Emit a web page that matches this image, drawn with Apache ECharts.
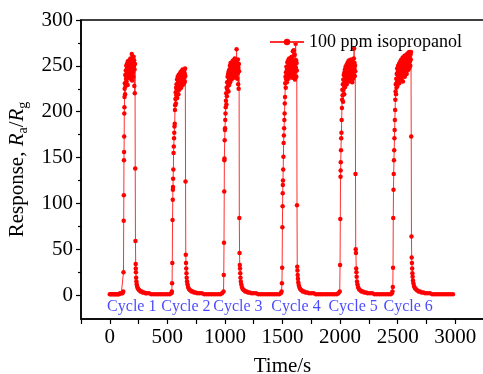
<!DOCTYPE html>
<html>
<head>
<meta charset="utf-8">
<script src="https://cdn.jsdelivr.net/npm/echarts@6/dist/echarts.min.js"></script>
<style>
html,body{margin:0;padding:0;background:#fff;}
#chart{width:483px;height:374px;}
</style>
</head>
<body>
<div id="chart"></div>
<script>
// ---- data (time in s, response Ra/Rg) ----
const seriesName = '100 ppm isopropanol';
const xTickLabels = [0, 500, 1000, 1500, 2000, 2500, 3000];
const yTickLabels = [0, 50, 100, 150, 200, 250, 300];
const cycleNames = ['Cycle 1', 'Cycle 2', 'Cycle 3', 'Cycle 4', 'Cycle 5', 'Cycle 6'];
const cycleLabelTimes = [191, 661, 1113, 1617, 2113, 2591];
const cycleLabelLevel = -13;

const base0 = [[0,1],[10,1],[20,1],[30,1],[40,1],[50,1],[60,1],[70,1],[80,1],[90,2],[100,2],[110,2]];
const cycle1 = [[117,4],[119,25],[121,81],[122,109],[123,147],[124,156],[125,173],[126,198],[127,205],[128,216],[129,225],[131,231],[133,219],[135,240],[137,228],[139,245],[141,236],[143,250],[145,233],[147,242],[149,252],[151,238],[153,247],[155,229],[157,255],[159,243],[161,249],[163,237],[165,253],[167,241],[169,246],[171,256],[173,239],[175,250],[177,244],[179,258],[181,236],[183,248],[185,253],[187,240],[189,257],[191,263],[193,234],[195,252],[197,247],[199,259],[201,243],[203,255],[205,238],[207,260],[209,249],[211,256],[213,228],[215,246],[217,220],[219,252],[221,138],[223,59],[225,34],[226,29],[227,25],[229,19],[231,15],[234,12],[237,10],[241,8],[246,7],[252,6],[259,5],[267,4],[276,4],[286,3],[297,3],[310,2]];
const base1 = [[320,2],[340,2],[360,1],[380,1],[400,1],[420,1],[440,1],[460,1],[480,1],[500,1],[520,1],[535,2]];
const cycle2 = [[539,4],[541,13],[543,35],[545,82],[547,104],[548,115],[549,118],[550,127],[552,137],[554,155],[556,162],[558,171],[560,177],[562,184],[564,187],[566,202],[568,207],[570,214],[572,221],[574,209],[576,226],[578,218],[580,230],[582,223],[584,235],[586,215],[588,228],[590,238],[592,225],[594,232],[596,219],[598,240],[600,229],[602,236],[604,224],[606,241],[608,231],[610,237],[612,227],[614,243],[616,233],[618,239],[620,226],[622,244],[624,235],[626,230],[628,241],[630,236],[632,246],[634,229],[636,240],[638,234],[640,244],[642,238],[644,231],[646,245],[648,237],[650,242],[652,233],[654,247],[656,239],[658,124],[660,44],[662,35],[664,29],[666,24],[668,19],[671,15],[675,12],[680,9],[686,7],[693,6],[701,5],[710,4],[720,4],[732,3],[745,3],[760,2]];
const base2 = [[780,2],[800,2],[820,1],[840,1],[860,1],[880,1],[900,1],[920,1],[940,1],[960,1],[975,2]];
const cycle3 = [[988,4],[990,22],[992,57],[994,113],[995,147],[996,149],[998,169],[1000,180],[1001,182],[1003,191],[1005,198],[1007,205],[1009,212],[1011,220],[1013,208],[1015,226],[1017,217],[1019,232],[1021,224],[1023,238],[1025,228],[1027,241],[1029,233],[1031,222],[1033,244],[1035,236],[1037,229],[1039,246],[1041,238],[1043,250],[1045,232],[1047,243],[1049,253],[1051,237],[1053,247],[1055,240],[1057,252],[1059,235],[1061,249],[1063,244],[1065,255],[1067,239],[1069,250],[1071,243],[1073,256],[1075,241],[1077,249],[1079,237],[1081,253],[1083,245],[1085,258],[1087,240],[1089,251],[1091,246],[1093,255],[1095,238],[1097,249],[1099,243],[1101,268],[1103,247],[1105,254],[1107,236],[1109,251],[1111,242],[1113,257],[1115,230],[1117,248],[1119,225],[1121,252],[1123,244],[1125,84],[1127,46],[1129,33],[1131,29],[1133,24],[1135,19],[1138,15],[1142,12],[1147,9],[1153,7],[1160,6],[1168,5],[1177,4],[1188,4],[1200,3],[1215,3],[1230,2]];
const base3 = [[1250,2],[1270,2],[1290,1],[1310,1],[1330,1],[1350,1],[1370,1],[1390,1],[1410,1],[1430,1],[1450,1],[1470,1],[1485,2]];
const cycle4 = [[1492,4],[1495,13],[1497,30],[1499,74],[1501,97],[1502,111],[1503,120],[1504,125],[1506,137],[1508,151],[1510,166],[1512,174],[1514,182],[1516,191],[1518,198],[1520,209],[1522,216],[1524,231],[1526,238],[1528,226],[1530,243],[1532,235],[1534,249],[1536,240],[1538,232],[1540,246],[1542,254],[1544,238],[1546,248],[1548,243],[1550,256],[1552,236],[1554,251],[1556,245],[1558,258],[1560,241],[1562,250],[1564,247],[1566,257],[1568,239],[1570,252],[1572,244],[1574,259],[1576,242],[1578,253],[1580,248],[1582,260],[1584,237],[1586,251],[1588,246],[1590,266],[1592,243],[1594,255],[1596,249],[1598,267],[1600,240],[1602,254],[1604,247],[1606,262],[1608,235],[1610,251],[1612,244],[1614,274],[1616,248],[1618,256],[1620,238],[1622,253],[1624,245],[1626,98],[1628,31],[1630,27],[1632,22],[1634,18],[1637,14],[1641,11],[1646,9],[1652,7],[1659,6],[1667,5],[1676,4],[1687,4],[1700,3],[1715,3],[1730,2]];
const base4 = [[1750,2],[1770,2],[1790,1],[1810,1],[1830,1],[1850,1],[1870,1],[1890,1],[1910,1],[1930,1],[1950,1],[1970,1],[1985,2]];
const cycle5 = [[1997,4],[2000,33],[2002,83],[2004,129],[2005,136],[2006,145],[2008,158],[2010,171],[2012,177],[2014,191],[2016,204],[2018,213],[2020,224],[2022,218],[2024,230],[2026,211],[2028,235],[2030,224],[2032,240],[2034,229],[2036,219],[2038,243],[2040,233],[2042,246],[2044,227],[2046,238],[2048,249],[2050,232],[2052,244],[2054,236],[2056,251],[2058,230],[2060,245],[2062,239],[2064,253],[2066,234],[2068,247],[2070,241],[2072,255],[2074,237],[2076,249],[2078,243],[2080,256],[2082,233],[2084,248],[2086,240],[2088,252],[2090,236],[2092,250],[2094,244],[2096,257],[2098,238],[2100,251],[2102,246],[2104,255],[2106,232],[2108,249],[2110,241],[2112,254],[2114,236],[2116,252],[2118,245],[2120,258],[2122,269],[2124,247],[2126,253],[2128,239],[2130,250],[2132,244],[2134,132],[2136,50],[2138,46],[2140,29],[2142,25],[2144,20],[2147,15],[2151,12],[2156,9],[2162,7],[2169,6],[2177,5],[2186,4],[2197,4],[2210,3],[2225,3],[2240,2]];
const base5 = [[2260,2],[2280,2],[2300,1],[2320,1],[2340,1],[2360,1],[2380,1],[2400,1],[2420,1],[2440,1],[2450,2]];
const cycle6 = [[2455,4],[2458,9],[2460,30],[2462,84],[2464,115],[2466,132],[2468,147],[2470,158],[2472,171],[2474,180],[2476,191],[2478,202],[2480,213],[2482,222],[2484,230],[2486,219],[2488,236],[2490,226],[2492,241],[2494,232],[2496,247],[2498,228],[2500,243],[2502,236],[2504,250],[2506,234],[2508,245],[2510,239],[2512,252],[2514,231],[2516,247],[2518,241],[2520,254],[2522,237],[2524,249],[2526,244],[2528,256],[2530,235],[2532,250],[2534,243],[2536,257],[2538,239],[2540,252],[2542,246],[2544,259],[2546,233],[2548,251],[2550,245],[2552,258],[2554,240],[2556,253],[2558,248],[2560,261],[2562,238],[2564,254],[2566,247],[2568,260],[2570,243],[2572,256],[2574,250],[2576,262],[2578,241],[2580,255],[2582,249],[2584,263],[2586,245],[2588,257],[2590,252],[2592,264],[2594,246],[2596,259],[2598,253],[2600,265],[2602,248],[2604,261],[2606,255],[2608,264],[2610,250],[2612,262],[2614,257],[2616,265],[2618,173],[2620,64],[2622,41],[2624,35],[2626,29],[2628,24],[2630,20],[2633,16],[2637,13],[2642,10],[2648,8],[2655,7],[2663,6],[2672,5],[2682,4],[2694,4],[2708,3],[2724,3],[2740,2]];
const base6 = [[2760,2],[2780,2],[2800,1],[2820,1],[2840,1],[2860,1],[2880,1],[2900,1],[2920,1],[2940,1],[2960,1],[2980,1]];

// ---- build ----
const FONT = "'Liberation Serif', 'Times New Roman', serif";
const allData = [].concat(base0, cycle1, base1, cycle2, base2, cycle3, base3, cycle4, base4, cycle5, base5, cycle6, base6);
const labelData = cycleLabelTimes.map((t, i) => ({ value: [t, cycleLabelLevel], name: cycleNames[i] }));

const xTicks = [];
for (let v = -250; v <= 3250; v += 250) xTicks.push(v);
const yMinor = [25, 75, 125, 175, 225, 275];

const chart = echarts.init(document.getElementById('chart'), null, { renderer: 'canvas' });
chart.setOption({
  animation: false,
  backgroundColor: '#fff',
  textStyle: { fontFamily: FONT },
  grid: { left: 81, right: -1, top: 20, bottom: 55, outerBoundsMode: 'none', containLabel: false,
          show: true, borderColor: '#000', borderWidth: 1.5, backgroundColor: 'transparent' },
  legend: {
    data: [seriesName], left: 264, top: 28, itemWidth: 34, itemHeight: 8, itemGap: 4,
    textStyle: { fontFamily: FONT, fontSize: 18, color: '#000' }
  },
  xAxis: {
    type: 'value', min: -250, max: 3250,
    name: 'Time/s', nameLocation: 'middle', nameGap: 37,
    nameTextStyle: { fontFamily: FONT, fontSize: 21, color: '#000' },
    axisLine: { show: true, onZero: false, lineStyle: { color: '#000', width: 1.5 } },
    axisTick: { show: true, inside: false, length: 5, customValues: xTicks, lineStyle: { color: '#000', width: 1.2 } },
    axisLabel: { customValues: xTickLabels, margin: 8, fontFamily: FONT, fontSize: 21, color: '#000', formatter: v => String(v) },
    splitLine: { show: false }
  },
  yAxis: [{
    type: 'value', min: -26, max: 300,
    name: 'Response, {i|R}{sub|a}/{i|R}{sub|g}', nameLocation: 'middle', nameGap: 49, nameRotate: 90,
    nameTextStyle: {
      fontFamily: FONT, fontSize: 21, color: '#000', lineHeight: 26,
      rich: {
        i: { fontFamily: FONT, fontSize: 21, fontStyle: 'italic', color: '#000', lineHeight: 26 },
        sub: { fontFamily: FONT, fontSize: 14, color: '#000', lineHeight: 14, verticalAlign: 'bottom' }
      }
    },
    axisLine: { show: true, onZero: false, lineStyle: { color: '#000', width: 1.5 } },
    axisTick: { show: true, inside: false, length: 5, customValues: yTickLabels, lineStyle: { color: '#000', width: 1.2 } },
    axisLabel: { customValues: yTickLabels, margin: 8, fontFamily: FONT, fontSize: 21, color: '#000', formatter: v => String(v) },
    splitLine: { show: false }
  }, {
    type: 'value', min: -26, max: 300, position: 'left',
    axisLine: { show: false, onZero: false },
    axisTick: { show: true, inside: false, length: 3, customValues: yMinor, lineStyle: { color: '#000', width: 1.2 } },
    axisLabel: { show: false },
    splitLine: { show: false }
  }],
  series: [{
    name: seriesName,
    type: 'line',
    data: allData,
    symbol: 'circle',
    symbolSize: 4.5,
    showSymbol: true,
    itemStyle: { color: '#ff0000' },
    lineStyle: { color: '#ff3030', width: 1 },
    z: 3
  }, {
    name: 'cycles',
    type: 'scatter',
    data: labelData,
    symbolSize: 0,
    silent: true,
    label: {
      show: true, position: 'inside', formatter: p => p.name,
      fontFamily: FONT, fontSize: 16, color: '#1a1aff'
    },
    z: 4
  }]
});
</script>
</body>
</html>
